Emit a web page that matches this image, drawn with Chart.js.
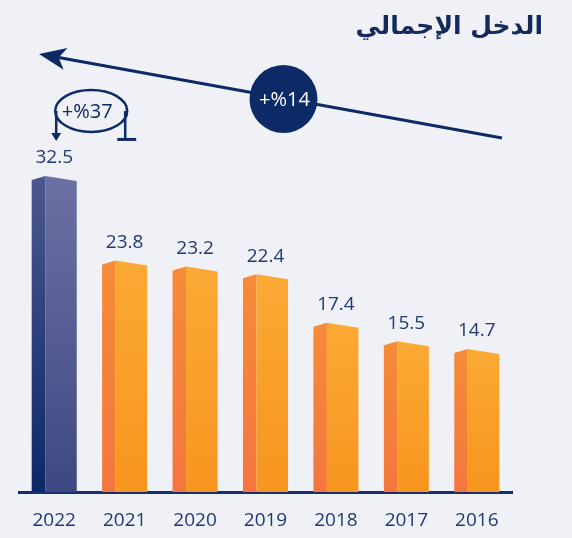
<!DOCTYPE html>
<html>
<head>
<meta charset="utf-8">
<script src="https://cdn.jsdelivr.net/npm/chart.js@4.4.0/dist/chart.umd.min.js"></script>
<style>
html, body { margin: 0; padding: 0; background: #f0f1f6; }
canvas { display: block; }
</style>
</head>
<body>
<canvas id="incomeChart" width="572" height="538"></canvas>
<script>
const years = ['2022', '2021', '2020', '2019', '2018', '2017', '2016'];
const income = [32.5, 23.8, 23.2, 22.4, 17.4, 15.5, 14.7];
const chartTitle = 'الدخل الإجمالي';
const growthOverall = '+%14';
const growthLastYear = '+%37';

const navy = '#0c2a66';
const labelColor = '#1f3877';
const numFont = '"Open Sans", "Noto Sans", sans-serif';

// page background
const background = {
  id: 'background',
  beforeDraw(chart) {
    const ctx = chart.ctx;
    ctx.save();
    ctx.fillStyle = '#f0f1f6';
    ctx.fillRect(0, 0, chart.width, chart.height);
    ctx.restore();
  }
};

// 3D look: darker side strip + small roof on top of every bar
const barFaces = {
  id: 'barFaces',
  afterDatasetsDraw(chart) {
    const ctx = chart.ctx;
    ctx.save();
    chart.getDatasetMeta(0).data.forEach((bar, i) => {
      const x0 = bar.x - bar.width / 2;
      const x1 = bar.x + bar.width / 2;
      const ridge = x0 + bar.width * 0.3;
      const top = bar.y;
      const base = bar.base;
      const side = ctx.createLinearGradient(0, top, 0, base);
      const front = ctx.createLinearGradient(0, top, 0, base);
      if (i === 0) {
        side.addColorStop(0, '#4d5790');
        side.addColorStop(1, '#0b2869');
        front.addColorStop(0, '#6c71a4');
        front.addColorStop(1, '#3d4882');
      } else {
        side.addColorStop(0, '#f68b37');
        side.addColorStop(1, '#f4763f');
        front.addColorStop(0, '#fbaa35');
        front.addColorStop(1, '#f7951f');
      }
      ctx.fillStyle = side;
      ctx.beginPath();
      ctx.moveTo(x0, top + 4);
      ctx.lineTo(ridge, top);
      ctx.lineTo(ridge, base);
      ctx.lineTo(x0, base);
      ctx.closePath();
      ctx.fill();
      ctx.fillStyle = front;
      ctx.beginPath();
      ctx.moveTo(ridge, top);
      ctx.lineTo(x1, top + 5);
      ctx.lineTo(x1, base);
      ctx.lineTo(ridge, base);
      ctx.closePath();
      ctx.fill();

      // value above the bar
      ctx.fillStyle = labelColor;
      ctx.font = '19px ' + numFont;
      ctx.textAlign = 'center';
      ctx.textBaseline = 'middle';
      ctx.fillText(income[i], bar.x, top - 18);
    });
    ctx.restore();
  }
};

// title, trend arrow and growth badges
const annotations = {
  id: 'annotations',
  afterDraw(chart) {
    const ctx = chart.ctx;
    const first = chart.getDatasetMeta(0).data[0];
    ctx.save();

    ctx.fillStyle = '#14295e';
    ctx.font = 'bold 25px "DejaVu Sans", sans-serif';
    ctx.textAlign = 'right';
    ctx.textBaseline = 'alphabetic';
    ctx.fillText(chartTitle, 543, 34);

    // long trend arrow
    const tail = { x: 502, y: 138 };
    const tip = { x: 39, y: 54 };
    const dx = tip.x - tail.x, dy = tip.y - tail.y;
    const len = Math.hypot(dx, dy);
    const ux = dx / len, uy = dy / len;
    const nx = -uy, ny = ux;
    ctx.strokeStyle = navy;
    ctx.lineWidth = 3;
    ctx.beginPath();
    ctx.moveTo(tail.x, tail.y);
    ctx.lineTo(tip.x - ux * 20, tip.y - uy * 20);
    ctx.stroke();
    ctx.fillStyle = navy;
    ctx.beginPath();
    ctx.moveTo(tip.x, tip.y);
    ctx.lineTo(tip.x - ux * 27 + nx * 11, tip.y - uy * 27 + ny * 11);
    ctx.lineTo(tip.x - ux * 20, tip.y - uy * 20);
    ctx.lineTo(tip.x - ux * 27 - nx * 11, tip.y - uy * 27 - ny * 11);
    ctx.closePath();
    ctx.fill();

    // circle badge on the arrow
    const cx = 283.5, cy = 99;
    ctx.beginPath();
    ctx.arc(cx, cy, 34, 0, Math.PI * 2);
    ctx.fill();
    ctx.fillStyle = '#ffffff';
    ctx.font = '20px ' + numFont;
    ctx.textAlign = 'center';
    ctx.textBaseline = 'middle';
    ctx.fillText(growthOverall, cx + 1, cy + 1);

    // yearly growth loop above the first bar
    const ex = first.x + 37, ey = first.y - 65;
    ctx.strokeStyle = navy;
    ctx.lineWidth = 2.5;
    ctx.beginPath();
    ctx.ellipse(ex, ey, 36, 21, 0, 0, Math.PI * 2);
    ctx.stroke();
    ctx.beginPath();
    ctx.moveTo(ex - 35, ey);
    ctx.lineTo(ex - 35, ey + 24);
    ctx.moveTo(ex + 34, ey);
    ctx.lineTo(ex + 34, ey + 28);
    ctx.stroke();
    ctx.lineWidth = 3;
    ctx.beginPath();
    ctx.moveTo(ex + 26, ey + 28.5);
    ctx.lineTo(ex + 45, ey + 28.5);
    ctx.stroke();
    ctx.fillStyle = navy;
    ctx.beginPath();
    ctx.moveTo(ex - 40, ey + 22);
    ctx.lineTo(ex - 30, ey + 22);
    ctx.lineTo(ex - 35, ey + 30);
    ctx.closePath();
    ctx.fill();
    ctx.font = '20px ' + numFont;
    ctx.fillText(growthLastYear, ex - 4, ey + 1);

    ctx.restore();
  }
};

new Chart(document.getElementById('incomeChart'), {
  type: 'bar',
  data: {
    labels: years,
    datasets: [{
      label: chartTitle,
      data: income,
      backgroundColor: 'rgba(0, 0, 0, 0)',
      barPercentage: 0.64,
      categoryPercentage: 1
    }]
  },
  options: {
    responsive: false,
    animation: false,
    layout: {
      padding: { top: 103, left: 19, right: 60, bottom: 0 }
    },
    plugins: {
      legend: { display: false },
      tooltip: { enabled: false }
    },
    scales: {
      x: {
        grid: { display: false, drawTicks: false },
        border: { display: true, color: '#16306e', width: 3 },
        ticks: {
          color: labelColor,
          padding: 17,
          font: { size: 19, family: numFont }
        },
        afterFit(scale) {
          scale.height = 46;
        }
      },
      y: {
        display: false,
        min: 0,
        max: 40
      }
    }
  },
  plugins: [background, barFaces, annotations]
});
</script>
</body>
</html>
